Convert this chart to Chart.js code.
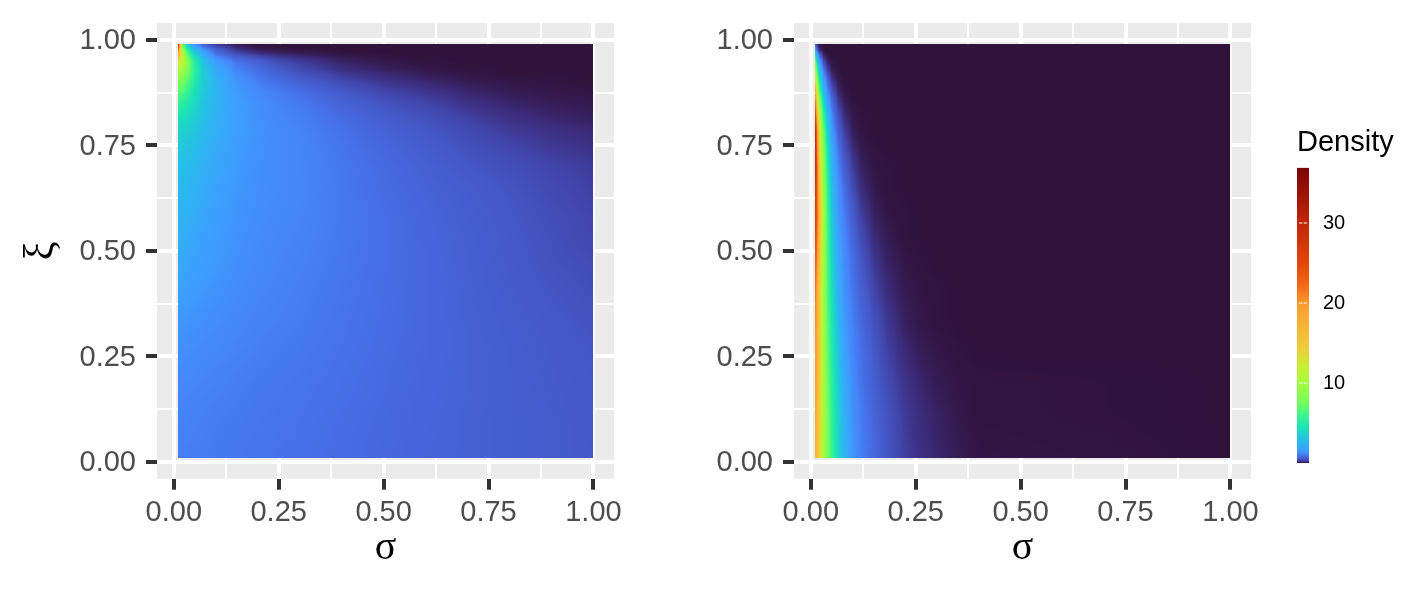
<!DOCTYPE html>
<html>
<head>
<meta charset="utf-8">
<title>Density</title>
<script src="https://cdn.jsdelivr.net/npm/chart.js@4"></script>
<style>
html, body { margin: 0; padding: 0; background: #fff; }
canvas { position: absolute; }
</style>
</head>
<body>
<canvas id="left_panel" width="640" height="590" style="left:0;top:0"></canvas>
<canvas id="right_panel" width="640" height="590" style="left:637px;top:0"></canvas>
<canvas id="colorbar" width="120" height="360" style="left:1297px;top:120px"></canvas>
<script>
// Axis ticks, both panels
var axisTicks = [0, 0.25, 0.5, 0.75, 1];
var axisTickLabels = ['0.00', '0.25', '0.50', '0.75', '1.00'];
var axisGrid = [0, 0.125, 0.25, 0.375, 0.5, 0.625, 0.75, 0.875, 1];

// Colour scale of the density
var scaleValues = [0, 0.12, 0.3, 0.5, 0.8, 1.1, 1.5, 2, 2.7, 3.6, 4.5, 6, 7.5, 10, 12, 15, 20, 22, 25, 30, 36.9];
var scaleColors = ['#30123B', '#3B2A78', '#4145AB', '#4458C6', '#466BE3', '#4585F8', '#3E9BFE', '#36AAF9', '#28BBEC', '#1FD0CF', '#1AE4B6', '#3DF48C', '#72FE5E', '#A4FC3C', '#C8EF34', '#F4C63A', '#FE9B2D', '#F66B19', '#E4460A', '#C42503', '#7A0403'];
var legendTicks = [10, 20, 30];

// Left panel, omega rows from top to bottom, sigma columns
var leftOmega = [0.991, 0.98, 0.968, 0.95, 0.93, 0.905, 0.875, 0.845, 0.815, 0.78, 0.74, 0.7, 0.66, 0.62, 0.575, 0.525, 0.47, 0.41, 0.35, 0.29, 0.23, 0.17, 0.105, 0.009];
var leftSigma = [0.009, 0.015, 0.02, 0.03, 0.04, 0.05, 0.07, 0.1, 0.15, 0.2, 0.25, 0.3, 0.4, 0.5, 0.6, 0.7, 0.8, 0.9, 0.999];
var leftDensity = [
    [36, 17, 8.5, 3.6, 2.2, 1.3, 0.5, 0.16, 0.03, 0.01, 0, 0, 0, 0, 0, 0, 0, 0, 0],
    [27, 15, 9, 5.5, 3.4, 2.2, 1.1, 0.5, 0.12, 0.03, 0.01, 0, 0, 0, 0, 0, 0, 0, 0],
    [20, 15, 11.5, 7.5, 5, 3.5, 1.9, 0.85, 0.35, 0.15, 0.08, 0.05, 0.01, 0, 0, 0, 0, 0, 0],
    [13, 12.5, 11.5, 9, 6.8, 5, 3, 1.5, 0.85, 0.6, 0.35, 0.22, 0.08, 0.03, 0.01, 0, 0, 0, 0],
    [11, 10.5, 10, 8.5, 6.8, 5.3, 3.4, 2, 1.1, 0.8, 0.55, 0.35, 0.15, 0.07, 0.03, 0.01, 0, 0, 0],
    [8.5, 8.3, 8, 7.1, 6, 4.9, 3.5, 2.3, 1.35, 1, 0.8, 0.6, 0.32, 0.17, 0.09, 0.04, 0.02, 0.01, 0],
    [6.8, 6.6, 6.4, 5.8, 5.1, 4.4, 3.3, 2.4, 1.5, 1.2, 1, 0.85, 0.55, 0.32, 0.2, 0.1, 0.05, 0.03, 0.02],
    [5.4, 5.3, 5.1, 4.8, 4.3, 3.9, 3, 2.4, 1.6, 1.3, 1.1, 1, 0.7, 0.47, 0.32, 0.18, 0.1, 0.06, 0.04],
    [4.5, 4.4, 4.3, 4.1, 3.8, 3.5, 2.9, 2.3, 1.6, 1.3, 1.15, 1.05, 0.8, 0.58, 0.42, 0.27, 0.16, 0.1, 0.07],
    [3.7, 3.7, 3.6, 3.5, 3.3, 3.1, 2.7, 2.2, 1.6, 1.35, 1.2, 1.1, 0.88, 0.68, 0.52, 0.36, 0.24, 0.17, 0.12],
    [3.2, 3.2, 3.1, 3, 2.9, 2.8, 2.45, 2, 1.5, 1.35, 1.2, 1.12, 0.92, 0.74, 0.58, 0.44, 0.32, 0.23, 0.17],
    [2.9, 2.9, 2.85, 2.75, 2.65, 2.5, 2.25, 1.9, 1.5, 1.3, 1.2, 1.12, 0.95, 0.78, 0.63, 0.5, 0.4, 0.3, 0.24],
    [2.7, 2.7, 2.65, 2.55, 2.45, 2.35, 2.1, 1.8, 1.45, 1.3, 1.2, 1.12, 0.96, 0.8, 0.66, 0.55, 0.45, 0.34, 0.26],
    [2.5, 2.5, 2.45, 2.4, 2.3, 2.2, 2, 1.7, 1.4, 1.28, 1.18, 1.12, 0.97, 0.82, 0.69, 0.58, 0.48, 0.37, 0.28],
    [2.4, 2.38, 2.34, 2.27, 2.2, 2.05, 1.85, 1.6, 1.38, 1.25, 1.15, 1.1, 0.97, 0.84, 0.71, 0.6, 0.5, 0.4, 0.31],
    [2.25, 2.2, 2.15, 2.05, 1.95, 1.85, 1.7, 1.55, 1.33, 1.22, 1.12, 1.08, 0.96, 0.84, 0.72, 0.62, 0.52, 0.42, 0.33],
    [2, 1.97, 1.92, 1.85, 1.75, 1.7, 1.58, 1.48, 1.28, 1.18, 1.1, 1.05, 0.95, 0.84, 0.73, 0.63, 0.53, 0.44, 0.37],
    [1.72, 1.7, 1.66, 1.62, 1.57, 1.52, 1.45, 1.36, 1.22, 1.12, 1.07, 1.02, 0.93, 0.83, 0.73, 0.64, 0.55, 0.47, 0.41],
    [1.5, 1.48, 1.46, 1.44, 1.4, 1.38, 1.32, 1.26, 1.15, 1.08, 1.04, 1, 0.91, 0.82, 0.73, 0.65, 0.57, 0.5, 0.44],
    [1.35, 1.34, 1.32, 1.3, 1.28, 1.26, 1.22, 1.18, 1.1, 1.04, 1, 0.97, 0.89, 0.81, 0.73, 0.66, 0.59, 0.53, 0.47],
    [1.22, 1.21, 1.2, 1.19, 1.18, 1.16, 1.13, 1.1, 1.05, 1, 0.97, 0.94, 0.87, 0.79, 0.72, 0.66, 0.6, 0.54, 0.49],
    [1.14, 1.13, 1.12, 1.12, 1.11, 1.1, 1.08, 1.05, 1, 0.96, 0.94, 0.91, 0.85, 0.78, 0.71, 0.66, 0.6, 0.55, 0.5],
    [1.08, 1.08, 1.07, 1.07, 1.06, 1.05, 1.03, 1, 0.97, 0.94, 0.91, 0.89, 0.82, 0.76, 0.7, 0.65, 0.6, 0.56, 0.51],
    [1.03, 1.03, 1.02, 1.02, 1.01, 1, 0.99, 0.97, 0.94, 0.91, 0.88, 0.86, 0.8, 0.75, 0.69, 0.65, 0.6, 0.56, 0.52]
];

// Right panel
var rightOmega = [0.991, 0.975, 0.9625, 0.9475, 0.93, 0.91, 0.885, 0.855, 0.82, 0.78, 0.74, 0.695, 0.645, 0.59, 0.53, 0.465, 0.395, 0.325, 0.255, 0.185, 0.115, 0.009];
var rightSigma = [0.009, 0.015, 0.02, 0.03, 0.04, 0.05, 0.065, 0.08, 0.1, 0.12, 0.15, 0.18, 0.22, 0.26, 0.3, 0.35, 0.4, 0.999];
var rightDensity = [
    [0.5, 0.1, 0.02, 0, 0, 0, 0, 0, 0, 0, 0, 0, 0, 0, 0, 0, 0, 0],
    [2.5, 0.7, 0.15, 0.02, 0, 0, 0, 0, 0, 0, 0, 0, 0, 0, 0, 0, 0, 0],
    [6, 2.2, 0.8, 0.12, 0.02, 0, 0, 0, 0, 0, 0, 0, 0, 0, 0, 0, 0, 0],
    [9, 4, 1.8, 0.4, 0.08, 0.02, 0, 0, 0, 0, 0, 0, 0, 0, 0, 0, 0, 0],
    [12, 6, 3, 0.9, 0.25, 0.06, 0.01, 0, 0, 0, 0, 0, 0, 0, 0, 0, 0, 0],
    [15, 8.5, 4.5, 1.6, 0.6, 0.15, 0.03, 0, 0, 0, 0, 0, 0, 0, 0, 0, 0, 0],
    [20, 11, 6.5, 2.6, 1.05, 0.4, 0.08, 0.02, 0, 0, 0, 0, 0, 0, 0, 0, 0, 0],
    [25, 14, 9, 4, 1.7, 0.8, 0.2, 0.05, 0.01, 0, 0, 0, 0, 0, 0, 0, 0, 0],
    [29, 18, 11.5, 5.8, 2.8, 1.15, 0.42, 0.13, 0.03, 0.01, 0, 0, 0, 0, 0, 0, 0, 0],
    [33, 21, 13.5, 7.5, 3.8, 1.6, 0.65, 0.27, 0.06, 0.02, 0, 0, 0, 0, 0, 0, 0, 0],
    [33, 22, 14.5, 8.5, 4.6, 2, 0.9, 0.42, 0.14, 0.04, 0.01, 0, 0, 0, 0, 0, 0, 0],
    [32, 23, 15.5, 9, 5.2, 2.4, 1.15, 0.62, 0.24, 0.08, 0.02, 0.01, 0, 0, 0, 0, 0, 0],
    [30, 23, 16, 9.5, 5.6, 2.8, 1.35, 0.82, 0.38, 0.14, 0.04, 0.01, 0, 0, 0, 0, 0, 0],
    [28, 23, 17, 10, 6, 3.2, 1.5, 1, 0.55, 0.24, 0.07, 0.02, 0.01, 0, 0, 0, 0, 0],
    [26, 22, 16.5, 10, 6.3, 3.6, 1.7, 1.15, 0.72, 0.38, 0.13, 0.05, 0.01, 0, 0, 0, 0, 0],
    [24, 20.5, 15.5, 9.9, 6.4, 4, 1.95, 1.25, 0.85, 0.52, 0.22, 0.09, 0.03, 0.01, 0, 0, 0, 0],
    [22.5, 19, 15, 9.8, 6.5, 4.4, 2.3, 1.35, 0.95, 0.66, 0.33, 0.15, 0.05, 0.02, 0.01, 0, 0, 0],
    [21.5, 18.5, 15, 10, 6.8, 4.8, 2.7, 1.5, 1.05, 0.78, 0.44, 0.23, 0.08, 0.03, 0.01, 0, 0, 0],
    [20.5, 18, 15, 10.2, 7.1, 5.1, 3.1, 1.7, 1.12, 0.86, 0.54, 0.3, 0.13, 0.06, 0.03, 0.01, 0, 0],
    [19.5, 17.5, 14.8, 10.3, 7.4, 5.4, 3.4, 2, 1.2, 0.92, 0.62, 0.38, 0.19, 0.1, 0.05, 0.02, 0.01, 0],
    [18.5, 16.8, 14.5, 10.4, 7.6, 5.7, 3.7, 2.2, 1.3, 1, 0.7, 0.45, 0.24, 0.13, 0.08, 0.03, 0.01, 0],
    [17.5, 16.2, 14.2, 10.3, 7.7, 5.9, 3.9, 2.4, 1.4, 1.05, 0.76, 0.5, 0.28, 0.16, 0.1, 0.05, 0.02, 0]
];

var panelGrey = '#EBEBEB';
var tickGrey = '#4D4D4D';

Chart.defaults.font.family = '"Liberation Sans", Arial, sans-serif';
Chart.defaults.animation = false;

var scaleRgb = scaleColors.map(function (hex) {
    return [1, 3, 5].map(function (i) { return parseInt(hex.substr(i, 2), 16); });
});

// Turns a density into its colour on the scale
function densityRgb(value) {
    var i = 1;
    while (i < scaleValues.length - 1 && value > scaleValues[i]) i++;
    var t = Math.min((value - scaleValues[i - 1]) / (scaleValues[i] - scaleValues[i - 1]), 1);
    var a = scaleRgb[i - 1], b = scaleRgb[i];
    return [a[0] + (b[0] - a[0]) * t, a[1] + (b[1] - a[1]) * t, a[2] + (b[2] - a[2]) * t];
}

// Position of each pixel inside the list of grid positions, ascending
function cellLookup(start, end, positions) {
    var cells = [];
    var n = 0;
    for (var p = start; p < end; p++) {
        while (n < positions.length - 2 && p + 0.5 > positions[n + 1]) n++;
        var t = (p + 0.5 - positions[n]) / (positions[n + 1] - positions[n]);
        cells.push({ index: n, t: Math.max(0, Math.min(1, t)) });
    }
    return cells;
}

// Grey panel under the grid, and the density surface painted from the parsed
// grid points of each dataset, smoothed like a raster with interpolate on
var densityPlugin = {
    id: 'densitySurface',
    beforeDraw: function (chart) {
        var area = chart.chartArea;
        chart.ctx.fillStyle = panelGrey;
        chart.ctx.fillRect(area.left, area.top, area.width, area.height);
    },
    beforeDatasetsDraw: function (chart) {
        var dataset = chart.data.datasets[0];
        var nodes = chart.getDatasetMeta(0).data;
        var columns = dataset.columnCount;
        var rows = nodes.length / columns;
        var xs = [], ys = [];
        for (var c = 0; c < columns; c++) xs.push(nodes[c].x);
        for (var r = 0; r < rows; r++) ys.push(nodes[r * columns].y);
        var left = Math.round(xs[0]), right = Math.round(xs[columns - 1]);
        var top = Math.round(ys[0]), bottom = Math.round(ys[rows - 1]);
        var xCells = cellLookup(left, right, xs);
        var yCells = cellLookup(top, bottom, ys);
        var image = chart.ctx.createImageData(right - left, bottom - top);
        var o = 0;
        yCells.forEach(function (yc) {
            xCells.forEach(function (xc) {
                var at = yc.index * columns + xc.index;
                var upper = dataset.data[at].v + (dataset.data[at + 1].v - dataset.data[at].v) * xc.t;
                var lower = dataset.data[at + columns].v + (dataset.data[at + columns + 1].v - dataset.data[at + columns].v) * xc.t;
                var rgb = densityRgb(upper + (lower - upper) * yc.t);
                image.data[o++] = rgb[0];
                image.data[o++] = rgb[1];
                image.data[o++] = rgb[2];
                image.data[o++] = 255;
            });
        });
        chart.ctx.putImageData(image, left, top);
    }
};

function axisOptions(min, max, tickPadding, labelOffset, title, titlePadding) {
    return {
        type: 'linear',
        min: min,
        max: max,
        afterBuildTicks: function (scale) {
            scale.ticks = axisGrid.map(function (value) { return { value: value }; });
        },
        grid: {
            color: '#FFFFFF',
            lineWidth: function (ctx) { return ctx.tick && axisTicks.indexOf(ctx.tick.value) >= 0 ? 4 : 2; },
            tickLength: 11,
            tickColor: '#333333',
            tickWidth: function (ctx) { return ctx.tick && axisTicks.indexOf(ctx.tick.value) >= 0 ? 4 : 0; }
        },
        border: { display: false },
        ticks: {
            color: tickGrey,
            font: { size: 29 },
            padding: tickPadding,
            labelOffset: labelOffset,
            autoSkip: false,
            maxRotation: 0,
            callback: function (value) {
                var i = axisTicks.indexOf(value);
                return i >= 0 ? axisTickLabels[i] : '';
            }
        },
        title: {
            display: !!title,
            text: title,
            color: '#000000',
            font: { family: '"Liberation Serif", serif', size: title === 'σ' ? 40 : 42 },
            padding: titlePadding
        }
    };
}

function makePanel(id, omega, sigma, density, yTitle) {
    var nodes = [];
    omega.forEach(function (w, r) {
        sigma.forEach(function (s, c) {
            nodes.push({ x: s, y: w, v: density[r][c] });
        });
    });
    var xAxis = axisOptions(-0.04, 1.049, 6, 0, 'σ', { top: 0, bottom: 18 });
    xAxis.afterFit = function (scale) {
        scale.height = 111.3;
        scale.paddingLeft = 0;
        scale.paddingRight = 0;
    };
    var yAxis = axisOptions(-0.04, 1.04, 10, 1.5, yTitle, { top: 17, bottom: 0 });
    yAxis.afterFit = function (scale) {
        scale.width = 157;
        scale.paddingTop = 0;
        scale.paddingBottom = 0;
    };
    return new Chart(document.getElementById(id), {
        type: 'scatter',
        data: { datasets: [{ data: nodes, columnCount: sigma.length, pointRadius: 0 }] },
        options: {
            responsive: false,
            layout: { autoPadding: false, padding: { top: 22.9, right: 26, left: 0, bottom: 0 } },
            plugins: { legend: { display: false }, tooltip: { enabled: false } },
            scales: { x: xAxis, y: yAxis }
        },
        plugins: [densityPlugin]
    });
}

makePanel('left_panel', leftOmega, leftSigma, leftDensity, 'ξ');
makePanel('right_panel', rightOmega, rightSigma, rightDensity, '');

// Colour bar
var legendTop = scaleValues[scaleValues.length - 1];
new Chart(document.getElementById('colorbar'), {
    type: 'bar',
    data: {
        datasets: [
            {
                type: 'scatter',
                pointStyle: 'line',
                pointRadius: 1.6,
                borderWidth: 1,
                borderColor: '#FFFFFF',
                data: legendTicks.map(function (v) { return { x: 0.12, y: v }; })
            },
            {
                type: 'scatter',
                pointStyle: 'line',
                pointRadius: 1.6,
                borderWidth: 1,
                borderColor: '#FFFFFF',
                data: legendTicks.map(function (v) { return { x: 0.88, y: v }; })
            },
            {
                barThickness: 12,
                data: [{ x: 0.5, y: [0, legendTop] }],
                backgroundColor: function (ctx) {
                    var chart = ctx.chart;
                    if (!chart.chartArea) return null;
                    var scale = chart.scales.y;
                    var gradient = chart.ctx.createLinearGradient(0, scale.getPixelForValue(0), 0, scale.getPixelForValue(legendTop));
                    scaleValues.forEach(function (v, i) {
                        gradient.addColorStop(v / legendTop, scaleColors[i]);
                    });
                    return gradient;
                }
            }
        ]
    },
    options: {
        responsive: false,
        layout: { autoPadding: false, padding: { top: 0, right: 0, left: 0, bottom: 17 } },
        plugins: {
            legend: { display: false },
            tooltip: { enabled: false },
            title: {
                display: true,
                text: 'Density',
                align: 'start',
                color: '#000000',
                font: { size: 29, weight: 'normal' },
                padding: { top: 6, bottom: 7 }
            }
        },
        scales: {
            x: { type: 'linear', min: 0, max: 1, display: false },
            y: {
                type: 'linear',
                position: 'right',
                min: 0,
                max: legendTop,
                afterBuildTicks: function (scale) {
                    scale.ticks = legendTicks.map(function (value) { return { value: value }; });
                },
                afterFit: function (scale) {
                    scale.width = 108;
                    scale.paddingTop = 0;
                    scale.paddingBottom = 0;
                },
                grid: { display: false },
                border: { display: false },
                ticks: { color: '#000000', font: { size: 20 }, padding: 6, align: 'center' }
            }
        }
    }
});
</script>
</body>
</html>
